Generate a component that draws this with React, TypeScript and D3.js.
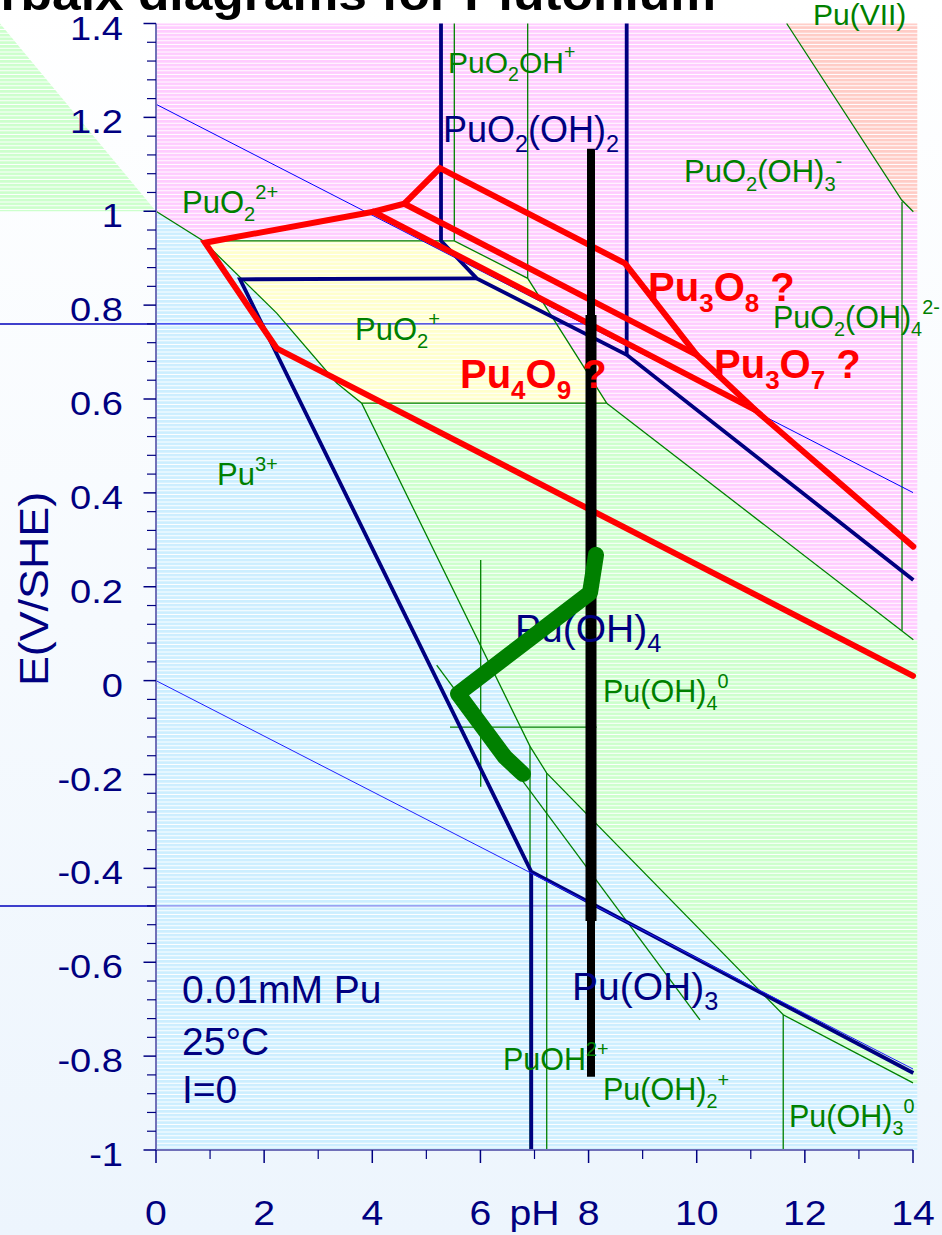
import React from "react";
import * as d3 from "d3";

type Pt = [number, number];
type Part = [string, "" | "sub" | "sup"];

// ---------- axes ----------
const PH_DOMAIN: [number, number] = [0, 14];
const E_DOMAIN: [number, number] = [-1, 1.4];
const phMajorTicks = [0, 2, 4, 6, 8, 10, 12, 14];
const phMinorTicks = [1, 3, 5, 7, 9, 11, 13];
const eMajorTicks = [1.4, 1.2, 1, 0.8, 0.6, 0.4, 0.2, 0, -0.2, -0.4, -0.6, -0.8, -1];
const eTickLabels = ["1.4", "1.2", "1", "0.8", "0.6", "0.4", "0.2", "0", "-0.2", "-0.4", "-0.6", "-0.8", "-1"];
const eMinorStep = 0.04;

// ---------- predominance regions (pH, E) ----------
const pu3Region: Pt[] = [[0, 1.0], [0.869, 0.937], [2.232, 0.783], [3.342, 0.634], [3.804, 0.591], [6.917, -0.14], [7.226, -0.197], [11.6, -0.712], [14, -0.857], [14.08, -0.857], [14.08, -1], [0, -1]];
const puO2pRegion: Pt[] = [[0.869, 0.937], [5.517, 0.937], [6.874, 0.857], [8.335, 0.591], [3.804, 0.591], [3.342, 0.634], [2.232, 0.783]];
const pu4Region: Pt[] = [[3.804, 0.591], [8.335, 0.591], [14.006, 0.087], [14.08, 0.087], [14.08, -0.857], [14, -0.857], [11.6, -0.712], [7.226, -0.197], [6.917, -0.14]];
const pu6Region: Pt[] = [[0, 1.4], [11.664, 1.4], [13.791, 1.024], [14.006, 0.999], [14.08, 0.999], [14.08, 0.087], [14.006, 0.087], [8.335, 0.591], [6.874, 0.857], [5.517, 0.937], [0.869, 0.937], [0, 1.0]];
const pu7Region: Pt[] = [[11.664, 1.4], [14.08, 1.4], [14.08, 0.999], [14.006, 0.999], [13.791, 1.024]];
const offChartGreen: Pt[] = [[-2.885, 1.4], [-2.885, 1.0], [0, 1.0]];

// ---------- aqueous boundaries ----------
const aqueousBoundaries: Pt[][] = [
  [[0, 1.0], [0.869, 0.937], [2.232, 0.783], [3.342, 0.634], [3.804, 0.591], [6.917, -0.14], [7.226, -0.197], [11.6, -0.712], [14, -0.857]],
  [[0.869, 0.937], [5.517, 0.937], [6.874, 0.857], [8.335, 0.591], [3.804, 0.591]],
  [[8.335, 0.591], [14.006, 0.087]],
  [[5.517, 0.937], [5.517, 1.4]],
  [[6.874, 0.857], [6.874, 1.4]],
  [[13.797, 1.02], [13.797, 0.106]],
  [[11.664, 1.4], [13.791, 1.024], [14.006, 0.999]],
  [[6.005, 0.257], [6.005, -0.226]],
  [[5.437, -0.099], [8.15, -0.099]],
  [[5.191, 0.033], [10.061, -0.723]],
  [[6.917, -0.14], [6.917, -1]],
  [[7.226, -0.197], [7.226, -1]],
  [[11.6, -0.712], [11.6, -1]],
];

// ---------- solid phase boundaries ----------
const solidBoundaries: Pt[][] = [
  [[5.271, 1.4], [5.271, 0.937], [5.931, 0.857], [8.705, 0.694], [14.006, 0.2145]],
  [[8.705, 1.4], [8.705, 0.694]],
  [[5.931, 0.857], [1.554, 0.855], [6.94, -0.407], [14.006, -0.836]],
  [[6.94, -0.407], [6.94, -1]],
];

// ---------- water stability ----------
const waterO2: Pt[] = [[0, 1.228], [14, 0.4006]];
const waterH2: Pt[] = [[0, 0], [14, -0.8274]];

// ---------- oxide (red) lines ----------
const oxideLines: Pt[][] = [
  [[2.232, 0.708], [0.906, 0.933], [4.019, 0.999], [4.592, 1.016], [5.252, 1.092], [8.674, 0.889], [10.0, 0.694], [11.078, 0.577], [14.006, 0.2855]],
  [[4.019, 0.999], [11.078, 0.577]],
  [[4.592, 1.016], [10.0, 0.694]],
  [[2.232, 0.708], [14.0, 0.01]],
];

// ---------- measurement ----------
const measuredPH = 8.045;
const measuredRange: Pt = [1.133, -0.844];
const measuredCore: Pt = [0.779, -0.512];
const markerE = [0.76, -0.48];
const markerPH: Pt = [-2.885, 8.0];
const trajectory: Pt[] = [[8.138, 0.268], [8.027, 0.187], [5.585, -0.028], [6.455, -0.163], [6.788, -0.199]];

const FONT = "'Liberation Sans', Arial, Helvetica, sans-serif";
const GREEN = "#008000";
const NAVY = "#000080";
const RED = "#ff0000";

const labels: { parts: Part[]; at: Pt; color: string; size: number; bold?: boolean }[] = [
  { parts: [["PuO", ""], ["2", "sub"], ["OH", ""], ["+", "sup"]], at: [5.4, 1.295], color: GREEN, size: 30 },
  { parts: [["PuO", ""], ["2", "sub"], ["(OH)", ""], ["2", "sub"]], at: [5.308, 1.148], color: NAVY, size: 36 },
  { parts: [["PuO", ""], ["2", "sub"], ["(OH)", ""], ["3", "sub"], ["-", "sup"]], at: [9.765, 1.062], color: GREEN, size: 31 },
  { parts: [["PuO", ""], ["2", "sub"], ["2+", "sup"]], at: [0.481, 0.996], color: GREEN, size: 31 },
  { parts: [["Pu(VII)", ""]], at: [12.15, 1.397], color: GREEN, size: 30 },
  { parts: [["Pu", ""], ["3", "sub"], ["O", ""], ["8", "sub"], [" ?", ""]], at: [9.1, 0.809], color: RED, size: 40, bold: true },
  { parts: [["Pu", ""], ["3", "sub"], ["O", ""], ["7", "sub"], [" ?", ""]], at: [10.32, 0.645], color: RED, size: 40, bold: true },
  { parts: [["Pu", ""], ["4", "sub"], ["O", ""], ["9", "sub"], [" ?", ""]], at: [5.622, 0.624], color: RED, size: 40, bold: true },
  { parts: [["PuO", ""], ["2", "sub"], ["(OH)", ""], ["4", "sub"], ["2-", "sup"]], at: [11.41, 0.751], color: GREEN, size: 30.5 },
  { parts: [["PuO", ""], ["2", "sub"], ["+", "sup"]], at: [3.68, 0.726], color: GREEN, size: 31 },
  { parts: [["Pu", ""], ["3+", "sup"]], at: [1.128, 0.417], color: GREEN, size: 31 },
  { parts: [["Pu(OH)", ""], ["4", "sub"]], at: [6.64, 0.0825], color: NAVY, size: 39 },
  { parts: [["Pu(OH)", ""], ["4", "sub"], ["0", "sup"]], at: [8.267, -0.045], color: GREEN, size: 30.5 },
  { parts: [["0.01mM Pu", ""]], at: [0.481, -0.687], color: NAVY, size: 39 },
  { parts: [["25°C", ""]], at: [0.481, -0.798], color: NAVY, size: 39 },
  { parts: [["I=0", ""]], at: [0.481, -0.9], color: NAVY, size: 39 },
  { parts: [["Pu(OH)", ""], ["3", "sub"]], at: [7.694, -0.68], color: NAVY, size: 39 },
  { parts: [["PuOH", ""], ["2+", "sup"]], at: [6.418, -0.83], color: GREEN, size: 30.5 },
  { parts: [["Pu(OH)", ""], ["2", "sub"], ["+", "sup"]], at: [8.267, -0.894], color: GREEN, size: 30.5 },
  { parts: [["Pu(OH)", ""], ["3", "sub"], ["0", "sup"]], at: [11.707, -0.951], color: GREEN, size: 30.5 },
];

function Chem({ x, y, parts, size, fill, bold }: { x: number; y: number; parts: Part[]; size: number; fill: string; bold?: boolean }) {
  let cur = 0;
  return (
    <text x={x} y={y} fontSize={size} fill={fill} fontWeight={bold ? "bold" : "normal"} fontFamily={FONT} style={{ whiteSpace: "pre" }}>
      {parts.map(([t, k], i) => {
        const target = k === "sub" ? size * 0.27 : k === "sup" ? -size * 0.45 : 0;
        const dy = target - cur;
        cur = target;
        return (
          <tspan key={i} dy={dy} fontSize={k ? size * 0.65 : size}>
            {t}
          </tspan>
        );
      })}
    </text>
  );
}

function Stripes({ id, color }: { id: string; color: string }) {
  return (
    <pattern id={id} patternUnits="userSpaceOnUse" width={8} height={3.75}>
      <rect width={8} height={3.75} fill={color} />
      <rect y={2.75} width={8} height={1} fill="#ffffff" />
    </pattern>
  );
}

export default function App() {
  const W = 942;
  const H = 1235;
  const x = d3.scaleLinear().domain(PH_DOMAIN).range([156, 913]);
  const y = d3.scaleLinear().domain(E_DOMAIN).range([1150, 23.5]);
  const line = d3.line<Pt>().x((d) => x(d[0])).y((d) => y(d[1]));
  const poly = (pts: Pt[]) => (line(pts) || "") + "Z";
  const minorE = d3
    .range(E_DOMAIN[0], E_DOMAIN[1] + 1e-9, eMinorStep)
    .filter((v) => !eMajorTicks.some((t) => Math.abs(t - v) < 1e-6));
  const SX = 1.12; // axis lettering is a little wider than Arial

  return (
    <svg width={W} height={H} viewBox={`0 0 ${W} ${H}`} style={{ position: "absolute", left: 0, top: 0, display: "block" }}>
      <defs>
        <linearGradient id="bg" x1="0" y1="0" x2="0" y2="1">
          <stop offset="0" stopColor="#ffffff" />
          <stop offset="1" stopColor="#edf5fd" />
        </linearGradient>
        <Stripes id="st-pink" color="#ffccff" />
        <Stripes id="st-yellow" color="#ffffcc" />
        <Stripes id="st-green" color="#ccffcc" />
        <Stripes id="st-blue" color="#cceeff" />
        <Stripes id="st-salmon" color="#ffccc6" />
      </defs>
      <rect width={W} height={H} fill="url(#bg)" />

      {/* title, mostly above the page */}
      <text transform={`translate(716,10) scale(${SX},1)`} textAnchor="end" fontFamily={FONT} fontWeight="bold" fontSize={46} fill="#000">
        Pourbaix diagrams for Plutonium
      </text>

      {/* regions */}
      <path d={poly(offChartGreen)} fill="url(#st-green)" />
      <path d={poly(pu3Region)} fill="url(#st-blue)" />
      <path d={poly(pu6Region)} fill="url(#st-pink)" />
      <path d={poly(pu7Region)} fill="url(#st-salmon)" />
      <path d={poly(puO2pRegion)} fill="url(#st-yellow)" />
      <path d={poly(pu4Region)} fill="url(#st-green)" />

      {/* potential markers */}
      {markerE.map((e, i) => (
        <g key={i}>
          <line x1={x(markerPH[0])} x2={x(0)} y1={y(e)} y2={y(e)} stroke="#0000bb" strokeWidth={1.5} />
          <line x1={x(0)} x2={x(markerPH[1])} y1={y(e)} y2={y(e)} stroke={i === 0 ? "#2222ee" : "#8888ee"} strokeWidth={1.2} />
        </g>
      ))}

      {/* aqueous boundaries */}
      {aqueousBoundaries.map((b, i) => (
        <path key={i} d={line(b) || ""} fill="none" stroke={GREEN} strokeWidth={1.3} />
      ))}

      {/* solid boundaries */}
      {solidBoundaries.map((b, i) => (
        <path key={i} d={line(b) || ""} fill="none" stroke={NAVY} strokeWidth={3.8} strokeLinejoin="miter" />
      ))}

      {/* water lines */}
      <path d={line(waterO2) || ""} fill="none" stroke="#0000ff" strokeWidth={1} />
      <path d={line(waterH2) || ""} fill="none" stroke="#2020ff" strokeWidth={1} />

      {/* oxide lines */}
      {oxideLines.map((b, i) => (
        <path key={i} d={line(b) || ""} fill="none" stroke={RED} strokeWidth={6} strokeLinejoin="miter" strokeLinecap="round" />
      ))}

      {/* measured pH bar */}
      <line x1={x(measuredPH)} x2={x(measuredPH)} y1={y(measuredRange[0])} y2={y(measuredRange[1])} stroke="#000" strokeWidth={8} />
      <line x1={x(measuredPH)} x2={x(measuredPH)} y1={y(measuredCore[0])} y2={y(measuredCore[1])} stroke="#000" strokeWidth={11} />

      {/* labels */}
      {labels.map((l, i) => (
        <Chem key={i} x={x(l.at[0])} y={y(l.at[1])} parts={l.parts} size={l.size} fill={l.color} bold={l.bold} />
      ))}

      {/* trajectory */}
      <path d={line(trajectory) || ""} fill="none" stroke={GREEN} strokeWidth={16} strokeLinejoin="round" strokeLinecap="round" />

      {/* axes */}
      <line x1={x(0)} x2={x(0)} y1={y(E_DOMAIN[1])} y2={y(E_DOMAIN[0])} stroke="#7070b8" strokeWidth={2} />
      <line x1={x(0)} x2={x(14)} y1={y(E_DOMAIN[0])} y2={y(E_DOMAIN[0])} stroke="#7070b8" strokeWidth={2} />
      {eMajorTicks.map((t, i) => (
        <g key={"em" + i}>
          <line x1={x(0) - 12.5} x2={x(0)} y1={y(t)} y2={y(t)} stroke={NAVY} strokeWidth={1.5} />
          <text transform={`translate(123,${y(t) + 16}) scale(${SX},1)`} textAnchor="end" fontFamily={FONT} fontSize={34} fill={NAVY}>
            {eTickLabels[i]}
          </text>
        </g>
      ))}
      {minorE.map((t, i) => (
        <line key={"en" + i} x1={x(0) - 9} x2={x(0)} y1={y(t)} y2={y(t)} stroke={NAVY} strokeWidth={1.2} />
      ))}
      {phMajorTicks.map((t) => (
        <g key={"pm" + t}>
          <line x1={x(t)} x2={x(t)} y1={y(-1)} y2={y(-1) + 13} stroke={NAVY} strokeWidth={1.5} />
          <text transform={`translate(${x(t)},1225) scale(${SX},1)`} textAnchor="middle" fontFamily={FONT} fontSize={35} fill={NAVY}>
            {t}
          </text>
        </g>
      ))}
      {phMinorTicks.map((t) => (
        <line key={"pn" + t} x1={x(t)} x2={x(t)} y1={y(-1)} y2={y(-1) + 9} stroke={NAVY} strokeWidth={1.2} />
      ))}
      <text transform={`translate(${x(7)},1225) scale(${SX},1)`} textAnchor="middle" fontFamily={FONT} fontSize={35} fill={NAVY}>
        pH
      </text>
      <text transform={`translate(48,589) rotate(-90) scale(${SX},1)`} textAnchor="middle" fontFamily={FONT} fontSize={40} fill={NAVY}>
        E(V/SHE)
      </text>
    </svg>
  );
}
